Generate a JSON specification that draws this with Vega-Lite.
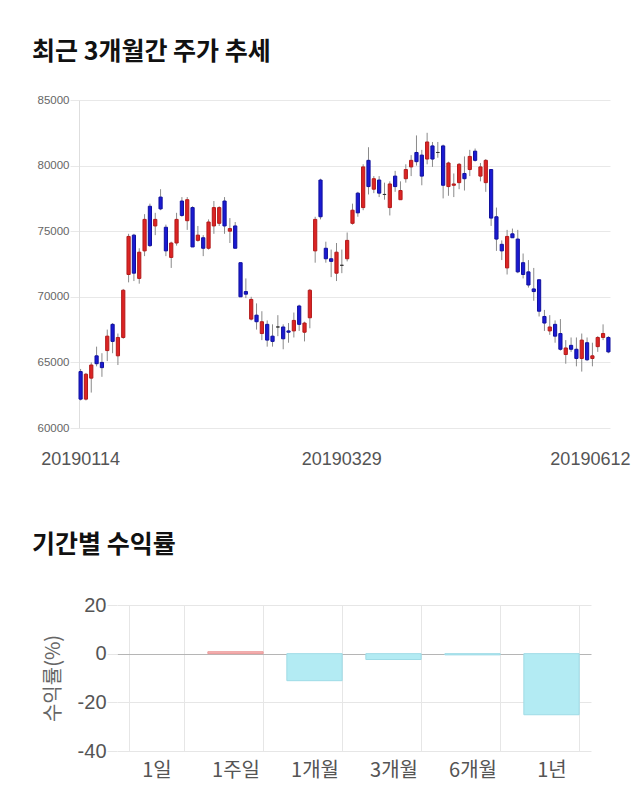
{
  "$schema": "https://vega.github.io/schema/vega-lite/v6.json",
  "padding": {"left": 32, "top": 40, "right": 5, "bottom": 40},
  "background": "white",
  "bounds": "flush",
  "spacing": 177,
  "config": {"view": {"stroke": null}, "font": "Liberation Sans"},
  "datasets": {
    "prices": [
      {"date": "20190114", "open": 64300, "high": 64500, "low": 62100, "close": 62200},
      {"date": "20190115", "open": 62200, "high": 64200, "low": 62100, "close": 64100},
      {"date": "20190116", "open": 63800, "high": 65000, "low": 62700, "close": 64800},
      {"date": "20190117", "open": 65500, "high": 66200, "low": 64700, "close": 64900},
      {"date": "20190118", "open": 65000, "high": 65700, "low": 63900, "close": 64600},
      {"date": "20190121", "open": 65900, "high": 67500, "low": 65100, "close": 67000},
      {"date": "20190122", "open": 67900, "high": 68000, "low": 65700, "close": 66600},
      {"date": "20190123", "open": 65500, "high": 67200, "low": 64800, "close": 66900},
      {"date": "20190124", "open": 66900, "high": 70600, "low": 66800, "close": 70500},
      {"date": "20190125", "open": 71700, "high": 74800, "low": 71100, "close": 74600},
      {"date": "20190128", "open": 74700, "high": 74800, "low": 71200, "close": 71800},
      {"date": "20190129", "open": 71400, "high": 73700, "low": 71000, "close": 73400},
      {"date": "20190130", "open": 73500, "high": 76300, "low": 73100, "close": 75900},
      {"date": "20190131", "open": 76900, "high": 77100, "low": 73800, "close": 73900},
      {"date": "20190207", "open": 75400, "high": 76400, "low": 74700, "close": 75900},
      {"date": "20190208", "open": 77600, "high": 78200, "low": 76600, "close": 76700},
      {"date": "20190211", "open": 75300, "high": 75500, "low": 73100, "close": 73500},
      {"date": "20190212", "open": 73000, "high": 74200, "low": 72200, "close": 74100},
      {"date": "20190213", "open": 74100, "high": 76400, "low": 73900, "close": 75900},
      {"date": "20190214", "open": 77300, "high": 77600, "low": 76100, "close": 76200},
      {"date": "20190215", "open": 75800, "high": 77600, "low": 75100, "close": 77400},
      {"date": "20190218", "open": 76800, "high": 76900, "low": 73800, "close": 73800},
      {"date": "20190219", "open": 74300, "high": 75400, "low": 74200, "close": 74700},
      {"date": "20190220", "open": 74500, "high": 74700, "low": 73100, "close": 73700},
      {"date": "20190221", "open": 73700, "high": 75900, "low": 73600, "close": 75700},
      {"date": "20190222", "open": 75400, "high": 77300, "low": 74800, "close": 76800},
      {"date": "20190225", "open": 75600, "high": 76900, "low": 75400, "close": 76800},
      {"date": "20190226", "open": 77300, "high": 77600, "low": 74800, "close": 75400},
      {"date": "20190227", "open": 75000, "high": 76000, "low": 74100, "close": 75200},
      {"date": "20190228", "open": 75400, "high": 75700, "low": 73700, "close": 73700},
      {"date": "20190304", "open": 72600, "high": 72600, "low": 70000, "close": 70000},
      {"date": "20190305", "open": 70400, "high": 71400, "low": 69900, "close": 70200},
      {"date": "20190306", "open": 68300, "high": 70000, "low": 68200, "close": 69800},
      {"date": "20190307", "open": 68600, "high": 69500, "low": 67500, "close": 68100},
      {"date": "20190308", "open": 67200, "high": 68900, "low": 66700, "close": 68100},
      {"date": "20190311", "open": 67900, "high": 68200, "low": 66200, "close": 66700},
      {"date": "20190312", "open": 67000, "high": 67900, "low": 66200, "close": 66600},
      {"date": "20190313", "open": 67700, "high": 68600, "low": 67000, "close": 67700},
      {"date": "20190314", "open": 67700, "high": 67900, "low": 66000, "close": 66800},
      {"date": "20190315", "open": 67400, "high": 68000, "low": 66500, "close": 67300},
      {"date": "20190318", "open": 67400, "high": 68800, "low": 66900, "close": 68200},
      {"date": "20190319", "open": 69300, "high": 69400, "low": 67400, "close": 67900},
      {"date": "20190320", "open": 67300, "high": 68100, "low": 66600, "close": 68000},
      {"date": "20190321", "open": 68400, "high": 70600, "low": 67600, "close": 70500},
      {"date": "20190322", "open": 73500, "high": 76100, "low": 72600, "close": 75900},
      {"date": "20190325", "open": 78900, "high": 79000, "low": 75900, "close": 76100},
      {"date": "20190326", "open": 73700, "high": 74200, "low": 72600, "close": 72900},
      {"date": "20190327", "open": 72900, "high": 73600, "low": 71500, "close": 72700},
      {"date": "20190328", "open": 71800, "high": 74100, "low": 71200, "close": 73400},
      {"date": "20190329", "open": 72400, "high": 73600, "low": 71800, "close": 72400},
      {"date": "20190401", "open": 72900, "high": 74900, "low": 72700, "close": 74300},
      {"date": "20190402", "open": 75600, "high": 77100, "low": 75500, "close": 76600},
      {"date": "20190403", "open": 77900, "high": 78000, "low": 76100, "close": 76400},
      {"date": "20190404", "open": 76800, "high": 80100, "low": 76600, "close": 79900},
      {"date": "20190405", "open": 80400, "high": 81400, "low": 77800, "close": 78400},
      {"date": "20190408", "open": 78200, "high": 79200, "low": 77900, "close": 79000},
      {"date": "20190409", "open": 78900, "high": 79200, "low": 77600, "close": 77900},
      {"date": "20190410", "open": 77800, "high": 78700, "low": 77400, "close": 77800},
      {"date": "20190411", "open": 76800, "high": 78800, "low": 76200, "close": 78600},
      {"date": "20190412", "open": 79200, "high": 79600, "low": 78000, "close": 78400},
      {"date": "20190415", "open": 77400, "high": 78800, "low": 77400, "close": 78100},
      {"date": "20190416", "open": 79000, "high": 80100, "low": 78700, "close": 79700},
      {"date": "20190417", "open": 79900, "high": 80800, "low": 79200, "close": 80400},
      {"date": "20190418", "open": 81000, "high": 82300, "low": 80000, "close": 80300},
      {"date": "20190419", "open": 80800, "high": 81200, "low": 78500, "close": 79200},
      {"date": "20190422", "open": 80500, "high": 82500, "low": 80100, "close": 81800},
      {"date": "20190423", "open": 81500, "high": 81800, "low": 79900, "close": 80500},
      {"date": "20190424", "open": 81000, "high": 81800, "low": 80600, "close": 81000},
      {"date": "20190425", "open": 81500, "high": 81600, "low": 77500, "close": 78500},
      {"date": "20190426", "open": 78400, "high": 80300, "low": 77700, "close": 80200},
      {"date": "20190429", "open": 78500, "high": 79400, "low": 77600, "close": 78600},
      {"date": "20190430", "open": 78700, "high": 80200, "low": 78200, "close": 80100},
      {"date": "20190502", "open": 79400, "high": 80700, "low": 78100, "close": 79000},
      {"date": "20190503", "open": 79700, "high": 81200, "low": 79200, "close": 80700},
      {"date": "20190507", "open": 81100, "high": 81300, "low": 80300, "close": 80400},
      {"date": "20190508", "open": 79200, "high": 80200, "low": 78800, "close": 79900},
      {"date": "20190509", "open": 78700, "high": 80500, "low": 78000, "close": 80400},
      {"date": "20190510", "open": 79700, "high": 79700, "low": 75400, "close": 76000},
      {"date": "20190513", "open": 76100, "high": 76800, "low": 73500, "close": 74400},
      {"date": "20190514", "open": 74000, "high": 74300, "low": 72800, "close": 73500},
      {"date": "20190515", "open": 72200, "high": 75100, "low": 71700, "close": 74600},
      {"date": "20190516", "open": 74800, "high": 75200, "low": 74500, "close": 74500},
      {"date": "20190517", "open": 74400, "high": 75100, "low": 71800, "close": 71900},
      {"date": "20190520", "open": 72600, "high": 73300, "low": 71400, "close": 71700},
      {"date": "20190521", "open": 71900, "high": 72800, "low": 70700, "close": 70900},
      {"date": "20190522", "open": 70600, "high": 72200, "low": 69700, "close": 70400},
      {"date": "20190523", "open": 71300, "high": 71300, "low": 68500, "close": 68900},
      {"date": "20190524", "open": 68500, "high": 69000, "low": 67400, "close": 68000},
      {"date": "20190527", "open": 67400, "high": 68600, "low": 67100, "close": 67700},
      {"date": "20190528", "open": 67900, "high": 68200, "low": 66500, "close": 67000},
      {"date": "20190529", "open": 67200, "high": 68300, "low": 65900, "close": 66000},
      {"date": "20190530", "open": 65600, "high": 66700, "low": 64900, "close": 66100},
      {"date": "20190531", "open": 66300, "high": 66900, "low": 65800, "close": 66000},
      {"date": "20190603", "open": 66000, "high": 66900, "low": 64700, "close": 65300},
      {"date": "20190604", "open": 65300, "high": 67200, "low": 64300, "close": 66700},
      {"date": "20190605", "open": 66500, "high": 66900, "low": 65100, "close": 65200},
      {"date": "20190607", "open": 65300, "high": 66500, "low": 64700, "close": 65500},
      {"date": "20190610", "open": 66200, "high": 67000, "low": 65800, "close": 66900},
      {"date": "20190611", "open": 66900, "high": 67900, "low": 66700, "close": 67200},
      {"date": "20190612", "open": 66900, "high": 67000, "low": 65700, "close": 65800}
    ],
    "returns": [
      {"period": "1일", "ret": 0},
      {"period": "1주일", "ret": 0.8},
      {"period": "1개월", "ret": -11.1},
      {"period": "3개월", "ret": -2.4},
      {"period": "6개월", "ret": -0.5},
      {"period": "1년", "ret": -25.1}
    ]
  },
  "vconcat": [
    {
      "width": 531,
      "height": 328,
      "title": {"text": "최근 3개월간 주가 추세", "anchor": "start", "frame": "group", "dx": -47, "offset": 9, "baseline": "alphabetic", "font": "Noto Sans CJK KR", "fontSize": 25, "fontWeight": "bold", "color": "#111111"},
      "data": {"name": "prices"},
      "encoding": {
        "x": {
          "field": "date", "type": "ordinal",
          "scale": {"type": "band", "paddingInner": 0.4, "paddingOuter": 0},
          "axis": {
            "title": null, "values": ["20190114", "20190329", "20190612"],
            "labelAngle": 0, "ticks": false, "domain": false, "grid": false,
            "labelFont": "Liberation Sans", "labelFontSize": 18, "labelColor": "#555555",
            "labelPadding": 22,
            "labelOffset": {"condition": {"test": "datum.value == '20190612'", "value": -18}, "value": 0}
          }
        }
      },
      "layer": [
        {
          "mark": {"type": "rule", "color": "#8a8a8a", "strokeWidth": 1},
          "encoding": {
            "y": {
              "field": "low", "type": "quantitative",
              "scale": {"domain": [60000, 85000], "nice": false, "zero": false},
              "axis": {
                "title": null, "values": [60000, 65000, 70000, 75000, 80000, 85000], "format": "d",
                "grid": true, "gridColor": "#e8e8e8", "domain": true, "domainColor": "#dedede",
                "ticks": true, "tickSize": 9, "tickColor": "#e8e8e8",
                "labelFontSize": 11.5, "labelColor": "#666666", "labelPadding": 1, "labelFlush": false
              }
            },
            "y2": {"field": "high"}
          }
        },
        {
          "mark": {"type": "bar", "strokeWidth": 1},
          "encoding": {
            "y": {"field": "open", "type": "quantitative"},
            "y2": {"field": "close"},
            "fill": {"condition": [{"test": "datum.close > datum.open", "value": "#dc2424"}, {"test": "datum.close < datum.open", "value": "#1a1ad2"}], "value": "#333333"},
            "stroke": {"condition": [{"test": "datum.close > datum.open", "value": "#b31a1a"}, {"test": "datum.close < datum.open", "value": "#10109e"}], "value": "#333333"}
          }
        }
      ]
    },
    {
      "width": 512,
      "height": 146,
      "title": {"text": "기간별 수익률", "anchor": "start", "frame": "group", "dx": -47, "offset": 17, "baseline": "alphabetic", "font": "Noto Sans CJK KR", "fontSize": 25, "fontWeight": "bold", "color": "#111111"},
      "data": {"name": "returns"},
      "mark": {"type": "bar", "strokeWidth": 1},
      "encoding": {
        "x": {
          "field": "period", "type": "nominal", "sort": null,
          "scale": {"range": [38, 512], "paddingInner": 0.3, "paddingOuter": 0.15},
          "axis": {
            "title": null, "labelAngle": 0, "tickBand": "extent", "grid": true, "gridColor": "#e6e6e6",
            "ticks": false, "domain": false, "labelFont": "Noto Sans CJK KR", "labelFontSize": 20,
            "labelColor": "#555555", "labelPadding": 9
          }
        },
        "y": {
          "field": "ret", "type": "quantitative",
          "scale": {"domain": [-40, 20], "nice": false},
          "axis": {
            "title": "수익률(%)", "titleFont": "Noto Sans CJK KR", "titleFontSize": 20, "titleFontWeight": "normal",
            "titleColor": "#666666", "titlePadding": 14,
            "values": [-40, -20, 0, 20], "labelExpr": "'' + datum.value",
            "offset": -38, "domain": false, "ticks": true, "tickSize": 10, "tickColor": "#e6e6e6",
            "grid": true, "gridColor": {"condition": {"test": "datum.value == 0", "value": "#b5b5b5"}, "value": "#e6e6e6"},
            "labelFontSize": 20, "labelColor": "#555555", "labelPadding": 1, "labelFlush": false
          }
        },
        "fill": {"condition": {"test": "datum.ret > 0", "value": "#f5b3b3"}, "value": "#b3ebf3"},
        "stroke": {"condition": [{"test": "datum.ret == 0", "value": "transparent"}, {"test": "datum.ret > 0", "value": "#ec9a9a"}], "value": "#9fdbe6"}
      }
    }
  ]
}
